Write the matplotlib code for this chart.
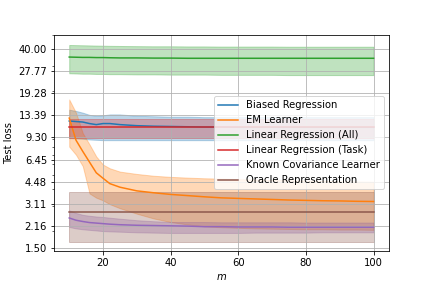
import matplotlib
matplotlib.use("Agg")
import matplotlib.pyplot as plt
from matplotlib.ticker import FixedLocator, FormatStrFormatter, NullFormatter
import numpy as np

# Number of samples m
m = [10, 12, 14, 16, 18, 20, 22, 25, 30, 35, 40, 45, 50, 55, 60, 65, 70, 75, 80, 85, 90, 95, 100]

# Biased Regression
biased_mean = [12.2, 12.1, 12.0, 11.7, 11.5, 11.7, 11.7, 11.5, 11.3, 11.2, 11.15, 11.1, 11.05,
               11.05, 11.0, 11.0, 11.0, 11.0, 11.0, 11.0, 11.0, 11.0, 11.0]
biased_hi = [14.7, 14.4, 14.0, 13.5, 13.3, 13.4, 13.6, 13.6, 13.3, 13.2, 13.1, 13.1, 13.0,
             13.0, 13.0, 13.0, 13.0, 13.0, 13.0, 13.0, 13.0, 13.0, 13.0]
biased_lo = [9.2, 9.15, 9.1, 9.0, 8.95, 8.9, 8.9, 8.9, 8.9, 8.9, 8.9, 8.9, 8.9,
             8.9, 8.9, 8.9, 8.9, 8.9, 8.9, 8.9, 8.9, 8.9, 8.9]

# EM Learner
em_mean = [12.8, 8.9, 7.4, 6.2, 5.2, 4.75, 4.35, 4.1, 3.86, 3.74, 3.64, 3.57, 3.5,
           3.44, 3.41, 3.38, 3.35, 3.32, 3.3, 3.28, 3.27, 3.25, 3.24]
em_hi = [17.4, 14.0, 10.0, 8.3, 6.8, 5.95, 5.6, 5.3, 5.1, 4.95, 4.86, 4.8, 4.75,
         4.72, 4.68, 4.65, 4.62, 4.6, 4.57, 4.55, 4.52, 4.5, 4.48]
em_lo = [8.0, 7.0, 5.8, 3.7, 3.45, 3.3, 3.1, 2.9, 2.65, 2.45, 2.31, 2.22, 2.15,
         2.12, 2.1, 2.08, 2.07, 2.06, 2.05, 2.05, 2.04, 2.04, 2.03]

# Linear Regression (All)
lr_all_mean = [35.0, 34.9, 34.8, 34.8, 34.7, 34.7, 34.6, 34.5, 34.5, 34.4, 34.4, 34.3, 34.3,
               34.3, 34.3, 34.3, 34.3, 34.3, 34.3, 34.3, 34.3, 34.3, 34.3]
lr_all_hi = [42.7, 42.6, 42.5, 42.4, 42.3, 42.2, 42.1, 42.0, 41.9, 41.8, 41.8, 41.7, 41.7,
             41.6, 41.6, 41.6, 41.6, 41.5, 41.5, 41.5, 41.5, 41.5, 41.5]
lr_all_lo = [26.8, 26.7, 26.6, 26.6, 26.5, 26.5, 26.4, 26.4, 26.3, 26.3, 26.2, 26.2, 26.2,
             26.1, 26.1, 26.1, 26.1, 26.0, 26.0, 26.0, 26.0, 26.0, 26.0]

# Linear Regression (Task)
lr_task_mean = [11.1] * len(m)
lr_task_hi = [12.7] * len(m)
lr_task_lo = [9.2] * len(m)

# Known Covariance Learner
kc_mean = [2.47, 2.38, 2.33, 2.29, 2.27, 2.25, 2.23, 2.21, 2.19, 2.18, 2.17, 2.16, 2.14,
           2.14, 2.13, 2.13, 2.13, 2.12, 2.12, 2.12, 2.12, 2.12, 2.12]
kc_hi = [2.80, 2.68, 2.6, 2.56, 2.53, 2.51, 2.48, 2.44, 2.38, 2.34, 2.31, 2.31, 2.31,
         2.3, 2.3, 2.3, 2.3, 2.3, 2.29, 2.29, 2.29, 2.29, 2.29]
kc_lo = [2.13, 2.08, 2.05, 2.03, 2.01, 1.99, 1.98, 1.97, 1.95, 1.94, 1.93, 1.93, 1.93,
         1.93, 1.93, 1.94, 1.94, 1.94, 1.94, 1.95, 1.95, 1.95, 1.95]

# Oracle Representation
oracle_mean = [2.73] * len(m)
oracle_hi = [3.8] * len(m)
oracle_lo = [1.66] * len(m)

yticks = [1.50, 2.16, 3.11, 4.48, 6.45, 9.30, 13.39, 19.28, 27.77, 40.00]

series = [
    ("Biased Regression", biased_mean, biased_lo, biased_hi),
    ("EM Learner", em_mean, em_lo, em_hi),
    ("Linear Regression (All)", lr_all_mean, lr_all_lo, lr_all_hi),
    ("Linear Regression (Task)", lr_task_mean, lr_task_lo, lr_task_hi),
    ("Known Covariance Learner", kc_mean, kc_lo, kc_hi),
    ("Oracle Representation", oracle_mean, oracle_lo, oracle_hi),
]

fig = plt.figure(figsize=(6, 4), dpi=72)
ax = fig.add_axes([0.125, 0.128, 0.775, 0.752])

for i, (name, mean, lo, hi) in enumerate(series):
    c = f"C{i}"
    ax.plot(m, mean, color=c, label=name)
    ax.fill_between(m, lo, hi, color=c, alpha=0.3)

ax.set_yscale("log")
ax.set_ylim(1.43, 50.7)
ax.yaxis.set_major_locator(FixedLocator(yticks))
ax.yaxis.set_major_formatter(FormatStrFormatter("%.2f"))
ax.yaxis.set_minor_formatter(NullFormatter())
ax.set_xticks([20, 40, 60, 80, 100])
ax.grid(which="major")
ax.set_xlabel("$m$")
ax.set_ylabel("Test loss")
ax.legend(loc="center right")

fig.savefig("out.png", dpi=72)
